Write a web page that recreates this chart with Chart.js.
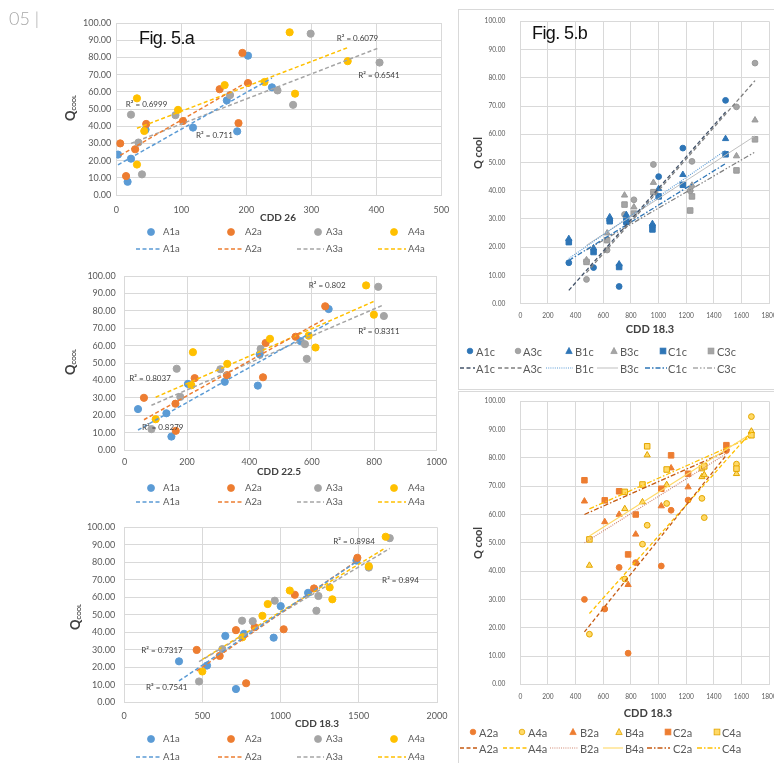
<!DOCTYPE html>
<html><head><meta charset="utf-8">
<script src="https://cdn.jsdelivr.net/npm/chart.js@4"></script>
<style>
html,body{margin:0;padding:0;background:#fff;}
body{width:774px;height:763px;overflow:hidden;position:relative;font-family:Lato,'Liberation Sans',sans-serif;}
.t{position:absolute;white-space:nowrap;line-height:1;color:#595959;}
.panel{position:absolute;border:1px solid #D9D9D9;box-sizing:border-box;}
</style></head><body>
<div class="panel" style="left:458px;top:9px;width:330px;height:381px;"></div>
<div class="panel" style="left:458px;top:391px;width:330px;height:400px;"></div>
<script>
// ================= DATA =================
// Fig. 5.a — cooling demand (Q cool) of four buildings, same cities, three CDD bases
const seriesA = ['A1a', 'A2a', 'A3a', 'A4a'];
const qA1a = [23.5, 21.1, 7.7, 38, 39.2, 55, 37, 81, 62.6];
const qA2a = [30, 26.6, 11, 41.3, 43, 41.8, 61.5, 65.1, 82.6];
const qA3a = [12, 30.5, 46.7, 46.4, 58.1, 60.8, 52.4, 93.8, 77];
const qA4a = [17.7, 37.2, 56.2, 49.5, 63.9, 65.7, 58.9, 94.6, 77.8];

const cdd26A1a = [2.6, 22.6, 17.4, 45, 118, 170, 186, 202.6, 239.5];
const cdd26A2a = [6, 29, 15, 46, 102.6, 188, 159, 202.6, 194];
const cdd26A3a = [39.5, 34, 22.6, 91, 175, 248, 272, 299, 405];
const cdd26A4a = [31.8, 43, 31.8, 95, 166.7, 228, 275, 266.7, 356];

const cdd225A1a = [43, 134, 150, 203, 321, 433, 427, 654, 564];
const cdd225A2a = [62, 163, 164, 224.6, 328, 443.6, 452, 548, 643];
const cdd225A3a = [86, 178.6, 167, 307, 436, 578, 584, 813, 831];
const cdd225A4a = [99.6, 214, 219, 329, 466, 590, 612, 774, 799];

const cdd183A1a = [351, 530, 715, 647, 767, 1001, 956, 1485, 1176];
const cdd183A2a = [464, 611, 780, 715, 835, 1020, 1091, 1214, 1491];
const cdd183A3a = [479, 628, 754, 822, 963, 1242, 1229, 1698, 1564];
const cdd183A4a = [500, 756, 918, 884, 1059, 1314, 1331, 1672, 1564];

// trendline end points [[x0,y0],[x1,y1]]
const tr26A1a = [[2.6, 17.5], [239.5, 68]];
const tr26A2a = [[6, 23], [202.6, 66]];
const tr26A3a = [[22.6, 30], [405, 85.7]];
const tr26A4a = [[31.8, 38.8], [356, 85.7]];
const tr225A1a = [[43, 11.5], [654, 73]];
const tr225A2a = [[62, 17.4], [643, 75.5]];
const tr225A3a = [[86, 25.7], [831, 83.5]];
const tr225A4a = [[99.6, 30.3], [799, 85.4]];
const tr183A1a = [[351, 12.3], [1485, 80.3]];
const tr183A2a = [[464, 18], [1491, 81]];
const tr183A3a = [[479, 23.3], [1698, 87.9]];
const tr183A4a = [[500, 24.6], [1672, 88.3]];

const r2Text26 = ['R² = 0.6079', 'R² = 0.6541', 'R² = 0.6999', 'R² = 0.711'];
const r2Text225 = ['R² = 0.802', 'R² = 0.8311', 'R² = 0.8037', 'R² = 0.8279'];
const r2Text183 = ['R² = 0.8984', 'R² = 0.894', 'R² = 0.7317', 'R² = 0.7541'];

// Fig. 5.b (top) — c-variants, CDD 18.3 (same cities as A1a / A3a)
const seriesC = ['A1c', 'A3c', 'B1c', 'B3c', 'C1c', 'C3c'];
const qA1c = [14.5, 12.8, 6.1, 29.5, 30.5, 45, 27.5, 72, 55.1];
const qB1c = [23, 19.7, 14, 30.7, 31.5, 40.7, 28.3, 58.4, 45.7];
const qC1c = [21.8, 18.3, 13, 29.2, 29, 38, 26.3, 52.9, 42.1];
const qA3c = [8.6, 19, 31.6, 36.8, 49.3, 50.4, 40, 85.2, 69.7];
const qB3c = [15.5, 25, 38.4, 34.2, 42.9, 41.9, 40.5, 65, 52.3];
const qC3c = [14.8, 22.5, 35.1, 31.9, 39.5, 38, 33, 58.2, 47.2];
const trA1c = [[351, 4.7], [1485, 67.9]];
const trA3c = [[479, 11], [1698, 79]];
const trB1c = [[351, 16], [1485, 54.3]];
const trB3c = [[479, 20.7], [1698, 59.4]];
const trC1c = [[351, 15.3], [1485, 49.6]];
const trC3c = [[479, 19], [1698, 53.7]];

// Fig. 5.b (bottom) — a-variants of buildings 2 and 4, CDD 18.3 (same cities as A2a / A4a)
const seriesB = ['A2a', 'A4a', 'B2a', 'B4a', 'C2a', 'C4a'];
const qB2a = [64.7, 57.4, 35.2, 60, 53, 63, 76.4, 69.7, 83.5];
const qC2a = [72.1, 65, 45.9, 68.2, 60, 69.1, 80.9, 74.4, 84.5];
const qB4a = [42, 62, 81, 64.4, 70.5, 73.3, 74, 89.4, 74.4];
const qC4a = [51.2, 68, 84.1, 70.6, 75.9, 76.4, 77, 88, 76.2];
const trA2a = [[464, 18.5], [1491, 81]];
const trA4a = [[500, 25], [1672, 89.2]];
const trB2a = [[464, 50], [1491, 81.5]];
const trB4a = [[500, 52.4], [1672, 88.6]];
const trC2a = [[464, 60], [1491, 82.3]];
const trC4a = [[500, 62], [1672, 87.4]];

// ================= STYLES =================
const FONT = "Lato, 'Liberation Sans', sans-serif";
const GRID = '#D9D9D9';
const colA = ['#5B9BD5', '#ED7D31', '#A5A5A5', '#FFC000'];
const BLUE = '#2E75B6', GRAY = '#A5A5A5', ORG = '#ED7D31', GOLDF = '#FFD966', GOLDS = '#E3A600';
const DASH = [4, 2.5], DOT = [1, 1.2], DASHDOT = [5, 2, 1.5, 2], DASHDOTDOT = [5, 2, 1.5, 2, 1.5, 2];

function pts(xs, ys) { return xs.map((x, i) => ({ x: x, y: ys[i] })); }
function seg(t) { return [{ x: t[0][0], y: t[0][1] }, { x: t[1][0], y: t[1][1] }]; }
function mk(label, xs, ys, shape, r, fill, stroke, order) {
  return { label, data: pts(xs, ys), pointStyle: shape, pointRadius: r, pointHoverRadius: r,
    backgroundColor: fill, borderColor: stroke, pointBorderWidth: 1, showLine: false, order };
}
function tl(label, t, color, dash, w) {
  return { label: label + ' trend', data: seg(t), showLine: true, pointRadius: 0, pointHoverRadius: 0,
    borderColor: color, backgroundColor: color, borderWidth: w, borderDash: dash, fill: false, order: 0 };
}

function r2Plugin(items) {
  return { id: 'r2labels', afterDatasetsDraw(chart) {
    const ctx = chart.ctx, xs = chart.scales.x, ys = chart.scales.y;
    ctx.save(); ctx.font = '8px ' + FONT; ctx.fillStyle = '#404040';
    ctx.textAlign = 'center'; ctx.textBaseline = 'middle';
    items.forEach(it => ctx.fillText(it.text, xs.getPixelForValue(it.x), ys.getPixelForValue(it.y)));
    ctx.restore();
  } };
}

function makeChart(c) {
  const R = c.region, P = c.plot;
  const div = document.createElement('div');
  div.style.cssText = `position:absolute;left:${R.l}px;top:${R.t}px;width:${R.w}px;height:${R.h}px;`;
  const cv = document.createElement('canvas');
  div.appendChild(cv); document.body.appendChild(div);
  const padding = { left: P.l - R.l - c.wy, top: P.t - R.t, right: R.l + R.w - P.r, bottom: R.t + R.h - P.b - c.hx };
  new Chart(cv, {
    type: 'scatter',
    data: { datasets: c.datasets },
    options: {
      responsive: true, maintainAspectRatio: false, animation: false, devicePixelRatio: 1,
      layout: { padding },
      plugins: { legend: { display: false }, tooltip: { enabled: false } },
      scales: {
        x: { type: 'linear', min: 0, max: c.xMax,
          ticks: { stepSize: c.xStep, autoSkip: false, maxRotation: 0, padding: c.xPad, color: '#595959',
                   font: { family: FONT, size: c.fs }, callback: v => String(Math.round(v)) },
          grid: { color: GRID, drawTicks: false }, border: { color: GRID },
          afterFit(s) { s.height = c.hx; s.paddingLeft = 0; s.paddingRight = 0; } },
        y: { type: 'linear', min: 0, max: 100,
          ticks: { stepSize: 10, padding: c.yPad, color: '#595959', font: { family: FONT, size: c.fs }, callback: v => Number(v).toFixed(2) },
          grid: { color: GRID, drawTicks: false }, border: { color: GRID },
          afterFit(s) { s.width = c.wy; s.paddingTop = 0; s.paddingBottom = 0; } }
      }
    },
    plugins: [r2Plugin(c.r2 || [])]
  });
}

// ---- Fig 5.a charts ----
function leftSets(xs, trs) {
  const qs = [qA1a, qA2a, qA3a, qA4a];
  const d = [];
  seriesA.forEach((s, i) => d.push(mk(s, xs[i], qs[i], 'circle', 3.6, colA[i], colA[i], 4 - i)));
  seriesA.forEach((s, i) => d.push(tl(s, trs[i], colA[i], DASH, 1.5)));
  return d;
}
makeChart({ region: { l: 0, t: 0, w: 458, h: 230 }, plot: { l: 116.3, t: 23, r: 441.3, b: 195 }, wy: 50, hx: 25,
  xMax: 500, xStep: 100, xPad: 10, yPad: 5, fs: 9,
  datasets: leftSets([cdd26A1a, cdd26A2a, cdd26A3a, cdd26A4a], [tr26A1a, tr26A2a, tr26A3a, tr26A4a]),
  r2: [{ text: r2Text26[0], x: 371, y: 91.3 }, { text: r2Text26[1], x: 404, y: 69.4 },
       { text: r2Text26[2], x: 46.5, y: 52.9 }, { text: r2Text26[3], x: 151, y: 34.9 }] });
makeChart({ region: { l: 0, t: 262, w: 458, h: 215 }, plot: { l: 124.6, t: 276, r: 436.6, b: 450 }, wy: 50, hx: 20,
  xMax: 1000, xStep: 200, xPad: 7, yPad: 9, fs: 9,
  datasets: leftSets([cdd225A1a, cdd225A2a, cdd225A3a, cdd225A4a], [tr225A1a, tr225A2a, tr225A3a, tr225A4a]),
  r2: [{ text: r2Text225[0], x: 649, y: 94.6 }, { text: r2Text225[1], x: 815, y: 68.4 },
       { text: r2Text225[2], x: 81.5, y: 41 }, { text: r2Text225[3], x: 122, y: 13 }] });
makeChart({ region: { l: 0, t: 515, w: 458, h: 215 }, plot: { l: 124.1, t: 527.3, r: 437, b: 702.5 }, wy: 50, hx: 20,
  xMax: 2000, xStep: 500, xPad: 8, yPad: 9, fs: 9,
  datasets: leftSets([cdd183A1a, cdd183A2a, cdd183A3a, cdd183A4a], [tr183A1a, tr183A2a, tr183A3a, tr183A4a]),
  r2: [{ text: r2Text183[0], x: 1470, y: 92.2 }, { text: r2Text183[1], x: 1767, y: 69.8 },
       { text: r2Text183[2], x: 242, y: 29.9 }, { text: r2Text183[3], x: 272, y: 8.4 }] });

// ---- Fig 5.b top ----
const styC = [
  { shape: 'circle', r: 2.9, fill: BLUE, stroke: BLUE, line: '#44546A', dash: DASH, w: 1.3 },
  { shape: 'circle', r: 2.9, fill: GRAY, stroke: '#9A9A9A', line: '#7F7F7F', dash: DASH, w: 1.3 },
  { shape: 'triangle', r: 3.6, fill: BLUE, stroke: BLUE, line: '#5B9BD5', dash: DOT, w: 1.2 },
  { shape: 'triangle', r: 3.6, fill: GRAY, stroke: '#9A9A9A', line: '#BFBFBF', dash: [], w: 1 },
  { shape: 'rect', r: 3.9, fill: BLUE, stroke: BLUE, line: BLUE, dash: DASHDOT, w: 1.3 },
  { shape: 'rect', r: 3.9, fill: GRAY, stroke: '#9A9A9A', line: '#7F7F7F', dash: DASHDOTDOT, w: 1.2 }
];
(function () {
  const xs = [cdd183A1a, cdd183A3a, cdd183A1a, cdd183A3a, cdd183A1a, cdd183A3a];
  const qs = [qA1c, qA3c, qB1c, qB3c, qC1c, qC3c];
  const trs = [trA1c, trA3c, trB1c, trB3c, trC1c, trC3c];
  const d = [];
  seriesC.forEach((s, i) => d.push(mk(s, xs[i], qs[i], styC[i].shape, styC[i].r, styC[i].fill, styC[i].stroke, 6 - i)));
  seriesC.forEach((s, i) => d.push(tl(s, trs[i], styC[i].line, styC[i].dash, styC[i].w)));
  makeChart({ region: { l: 458, t: 10, w: 316, h: 320 }, plot: { l: 520.3, t: 21.3, r: 769.3, b: 303.7 }, wy: 40, hx: 15,
    xMax: 1800, xStep: 200, xPad: 8, yPad: 15, fs: 6.6, datasets: d });
})();

// ---- Fig 5.b bottom ----
const styB = [
  { shape: 'circle', r: 2.9, fill: ORG, stroke: ORG, line: '#C55A11', dash: DASH, w: 1.3 },
  { shape: 'circle', r: 2.9, fill: GOLDF, stroke: GOLDS, line: '#FFC000', dash: DASH, w: 1.3 },
  { shape: 'triangle', r: 3.6, fill: ORG, stroke: ORG, line: '#D08770', dash: DOT, w: 1.2 },
  { shape: 'triangle', r: 3.6, fill: GOLDF, stroke: GOLDS, line: '#FFD966', dash: [], w: 1.1 },
  { shape: 'rect', r: 3.9, fill: ORG, stroke: ORG, line: '#C55A11', dash: DASHDOT, w: 1.3 },
  { shape: 'rect', r: 3.9, fill: GOLDF, stroke: GOLDS, line: '#FFC000', dash: DASHDOT, w: 1.3 }
];
(function () {
  const xs = [cdd183A2a, cdd183A4a, cdd183A2a, cdd183A4a, cdd183A2a, cdd183A4a];
  const qs = [qA2a, qA4a, qB2a, qB4a, qC2a, qC4a];
  const trs = [trA2a, trA4a, trB2a, trB4a, trC2a, trC4a];
  const d = [];
  seriesB.forEach((s, i) => d.push(mk(s, xs[i], qs[i], styB[i].shape, styB[i].r, styB[i].fill, styB[i].stroke, 6 - i)));
  seriesB.forEach((s, i) => d.push(tl(s, trs[i], styB[i].line, styB[i].dash, styB[i].w)));
  makeChart({ region: { l: 458, t: 392, w: 316, h: 320 }, plot: { l: 520.3, t: 401.3, r: 769.3, b: 684.3 }, wy: 40, hx: 15,
    xMax: 1800, xStep: 200, xPad: 8.5, yPad: 15, fs: 6.6, datasets: d });
})();

// ================= TEXT & LEGENDS (HTML / SVG) =================
function addText(html, x, y, css, align, rot) {
  const d = document.createElement('div');
  d.className = 't'; d.innerHTML = html;
  d.style.left = x + 'px'; d.style.top = y + 'px';
  if (css) d.style.cssText += css;
  const tx = align === 'c' ? '-50%' : (align === 'r' ? '-100%' : '0');
  d.style.transform = `translate(${tx},-50%)` + (rot ? ` rotate(${rot}deg)` : '');
  document.body.appendChild(d);
}
const NS = 'http://www.w3.org/2000/svg';
const svg = document.createElementNS(NS, 'svg');
svg.setAttribute('width', 774); svg.setAttribute('height', 763);
svg.style.cssText = 'position:absolute;left:0;top:0;pointer-events:none;';
document.body.appendChild(svg);
function el(tag, attrs) { const e = document.createElementNS(NS, tag); for (const k in attrs) e.setAttribute(k, attrs[k]); svg.appendChild(e); }
function marker(shape, x, y, s, fill, stroke) {
  if (shape === 'circle') el('circle', { cx: x, cy: y, r: s, fill, stroke, 'stroke-width': 0.8 });
  else if (shape === 'triangle') el('polygon', { points: `${x},${y - s * 1.1} ${x - s},${y + s * 0.8} ${x + s},${y + s * 0.8}`, fill, stroke, 'stroke-width': 0.8 });
  else el('rect', { x: x - s * 0.9, y: y - s * 0.9, width: s * 1.8, height: s * 1.8, fill, stroke, 'stroke-width': 0.8 });
}
function lineS(x0, x1, y, color, dash, w) {
  el('line', { x1: x0, x2: x1, y1: y, y2: y, stroke: color, 'stroke-width': w, 'stroke-dasharray': dash.length ? dash.join(',') : 'none' });
}

// page header and figure labels
addText('05 |', 9, 18, 'font-size:18px;color:#A6A6A6;font-family:Lato,sans-serif;font-weight:300;', 'l');
addText('Fig. 5.a', 139, 38, "font-size:18px;color:#111;font-family:'Liberation Sans',Arial,sans-serif;letter-spacing:-0.6px;", 'l');
addText('Fig. 5.b', 532, 33, "font-size:18px;color:#111;font-family:'Liberation Sans',Arial,sans-serif;letter-spacing:-0.6px;", 'l');

// axis titles
const qcool = 'Q<span style="font-size:5.5px;vertical-align:-1px;">COOL</span>';
const ttlL = 'font-size:10px;font-weight:bold;color:#404040;';
const qL = 'font-size:13px;font-weight:bold;color:#404040;';
addText('CDD 26', 278, 217, ttlL, 'c');
addText('CDD 22.5', 279, 471, ttlL, 'c');
addText('CDD 18.3', 317, 723, ttlL, 'c');
addText(qcool, 71, 108, qL, 'c', -90);
addText(qcool, 71, 362, qL, 'c', -90);
addText(qcool, 76, 617, qL, 'c', -90);
const ttlR = 'font-size:11px;font-weight:bold;color:#404040;';
addText('CDD 18.3', 650, 328, ttlR, 'c');
addText('CDD 18.3', 648, 712, ttlR, 'c');
addText('Q cool', 477, 153, ttlR, 'c', -90);
addText('Q cool', 477, 543, ttlR, 'c', -90);

// left legends
const legMk = [151, 231, 318, 394], legTx = [163, 245, 326, 408];
const legLn = [[136, 162], [218, 244], [297, 324], [378, 406]];
[[232, 249], [488, 502], [739, 757]].forEach(rows => {
  seriesA.forEach((s, i) => {
    marker('circle', legMk[i], rows[0], 3.5, colA[i], colA[i]);
    addText(s, legTx[i], rows[0], 'font-size:9.5px;', 'l');
    lineS(legLn[i][0], legLn[i][1], rows[1], colA[i], DASH, 1.5);
    addText(s, legTx[i], rows[1], 'font-size:9.5px;', 'l');
  });
});

// right legends
function rightLegend(names, sty, mkX, txX, lnX, rows) {
  names.forEach((s, i) => {
    const st = sty[i];
    marker(st.shape, mkX[i], rows[0], st.shape === 'circle' ? 2.8 : 3.2, st.fill, st.stroke);
    addText(s, txX[i], rows[0], 'font-size:11px;', 'l');
    lineS(lnX[i][0], lnX[i][1], rows[1], st.line, st.dash.length ? st.dash : [], st.w);
    addText(s, txX[i], rows[1], 'font-size:11px;', 'l');
  });
}
rightLegend(seriesC, styC, [470, 518, 569, 614, 663, 711], [476, 523, 575, 620, 668, 717],
  [[460, 475], [498, 522], [546, 573], [597, 618], [645, 667], [693, 715]], [351, 368]);
rightLegend(seriesB, styB, [473, 522, 573, 619, 668, 717], [479, 528, 580, 625, 673, 722],
  [[460, 478], [503, 527], [550, 578], [603, 623], [647, 670], [697, 720]], [732, 748]);
</script>
</body></html>
